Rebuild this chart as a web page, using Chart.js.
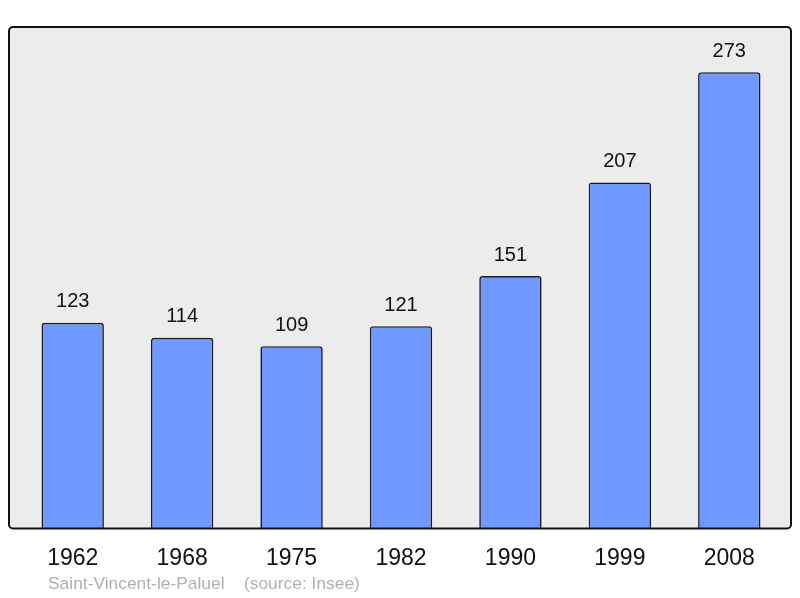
<!DOCTYPE html>
<html><head><meta charset="utf-8">
<script src="https://cdn.jsdelivr.net/npm/chart.js@4"></script>
<style>html,body{margin:0;padding:0;background:#fff}#wrap{width:800px;height:598px;position:relative}</style>
</head><body><div id="wrap"><canvas id="c" width="800" height="598"></canvas></div>
<script>
const categories = ["1962","1968","1975","1982","1990","1999","2008"];
const population = [123,114,109,121,151,207,273];
const yMax = 300;
const footer = "Saint-Vincent-le-Paluel    (source: Insee)";

const frame = {
  id:'frame',
  beforeDatasetsDraw(chart){
    const ctx = chart.ctx, a = chart.chartArea;
    const x0 = 9, x1 = 791, y0 = a.top, y1 = a.bottom;
    ctx.save();
    ctx.beginPath();
    ctx.roundRect(x0, y0, x1-x0, y1-y0, 4);
    ctx.fillStyle = '#ececec';
    ctx.fill();
    ctx.restore();
  },
  afterDatasetsDraw(chart){
    const ctx = chart.ctx, a = chart.chartArea;
    const x0 = 9, x1 = 791, y0 = a.top, y1 = a.bottom;
    ctx.save();
    ctx.beginPath();
    ctx.roundRect(x0, y0, x1-x0, y1-y0, 4);
    ctx.lineWidth = 2;
    ctx.strokeStyle = '#111';
    ctx.stroke();
    const meta = chart.getDatasetMeta(0);
    ctx.fillStyle = '#111';
    ctx.font = '20px "Liberation Sans", Arial, sans-serif';
    ctx.textAlign = 'center';
    ctx.textBaseline = 'middle';
    meta.data.forEach((bar,i)=>{
      ctx.fillText(String(population[i]), bar.x, bar.y - 21);
    });
    ctx.fillStyle = '#b0b0b0';
    ctx.font = '17.4px "Liberation Sans", Arial, sans-serif';
    ctx.textAlign = 'left';
    ctx.fillText(footer, 48, 584);
    ctx.restore();
  }
};

new Chart(document.getElementById('c'), {
  type:'bar',
  data:{labels:categories, datasets:[{data:population, backgroundColor:'#7099ff', borderColor:'#1a1a1a', borderWidth:1.6, borderRadius:{topLeft:3,topRight:3}, borderSkipped:'bottom', categoryPercentage:1, barPercentage:0.57}]},
  options:{
    responsive:false, animation:false,
    layout:{padding:{left:18, right:16, top:27, bottom:10}},
    plugins:{legend:{display:false}, tooltip:{enabled:false}},
    scales:{
      x:{grid:{display:false, drawTicks:false}, border:{display:false},
         ticks:{color:'#111', font:{size:23, family:'"Liberation Sans", Arial, sans-serif'}, padding:16, maxRotation:0}},
      y:{display:false, min:0, max:yMax}
    }
  },
  plugins:[frame]
});
</script></body></html>
